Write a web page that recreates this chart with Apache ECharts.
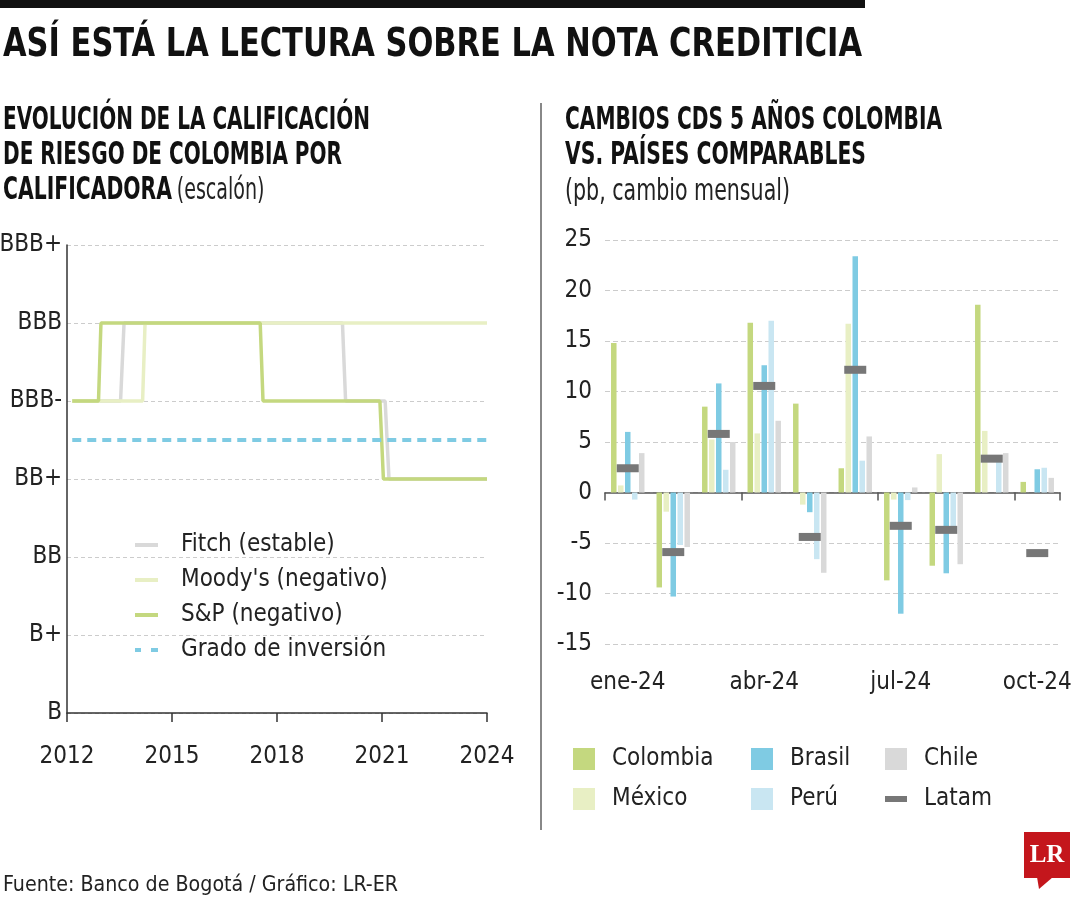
<!DOCTYPE html>
<html><head><meta charset="utf-8">
<script src="https://cdn.jsdelivr.net/npm/echarts/dist/echarts.min.js"></script>
<style>html,body{margin:0;padding:0;background:#fff}#c{width:1080px;height:900px}</style>
</head><body><div id="c"></div>
<script>
// ---------- data: left chart (ratings, steps) ----------
const ratingLabels = ['B', 'B+', 'BB', 'BB+', 'BBB-', 'BBB', 'BBB+'];
const fitch = [[2012.15,4],[2013.53,4],[2013.63,5],[2019.87,5],[2019.96,4],[2021.09,4],[2021.2,3],[2024,3]];
const moodys = [[2012.15,4],[2014.16,4],[2014.23,5],[2024,5]];
const sp = [[2012.15,4],[2012.9,4],[2012.97,5],[2017.52,5],[2017.6,4],[2020.94,4],[2021.04,3],[2024,3]];
const investmentGrade = [[2012.15,3.5],[2024,3.5]];

// ---------- data: right chart (CDS monthly change, pb) ----------
const months = ['ene-24','feb-24','mar-24','abr-24','may-24','jun-24','jul-24','ago-24','sep-24','oct-24'];
const colombia = [14.8, -9.4, 8.5, 16.8, 8.8, 2.4, -8.7, -7.25, 18.6, 1.05];
const mexico   = [0.7, -1.9, 5.25, 5.85, -1.2, 16.7, -0.7, 3.8, 6.1, 0];
const brasil   = [6.0, -10.3, 10.8, 12.6, -1.95, 23.4, -12.0, -8.0, 0, 2.3];
const peru     = [-0.7, -5.2, 2.25, 17.0, -6.6, 3.15, -0.75, -3.9, 3.2, 2.45];
const chile    = [3.9, -5.4, 5.0, 7.1, -7.95, 5.55, 0.5, -7.1, 3.9, 1.45];
const latam    = [2.4, -5.9, 5.8, 10.55, -4.4, 12.15, -3.3, -3.7, 3.35, -6.0];

const FAM = "'Liberation Sans Narrow','Arial Narrow','DejaVu Sans Condensed',sans-serif";
const C = {col:'#c4d87f', mex:'#e8efc4', bra:'#7fcbe3', per:'#c9e6f2', chi:'#d9d9d9', lat:'#777777', txt:'#222'};

const mctx = document.createElement('canvas').getContext('2d');
function mw(font, t){ mctx.font = font; return mctx.measureText(t).width; }
function fit(font, t, w){ return w / mw(font, t); }

const chart = echarts.init(document.getElementById('c'), null, {renderer:'canvas'});

const titleFont = 'bold 39px ' + FAM;
const subB = 'bold 32px ' + FAM;
const subR = 'normal 30px ' + FAM;
const footFont = 'normal 21px ' + FAM;

function txt(x, y, text, font, w, fill){
  return {type:'text', x:x, y:y, scaleX: fit(font, text, w), style:{text:text, font:font, fill:fill||'#111', verticalAlign:'middle', align:'left'}};
}
const sL3 = fit(subB, 'CALIFICADORA', 169);
const sR3 = fit(subR, '(pb, cambio mensual)', 225);

const FS = 24;
const labelStyle = {fontSize:FS, fontFamily:FAM, color:C.txt};
const lineIcon = 'path://M0,0h23v4h-23z';
const dashIcon = 'path://M0,0h6v4h-6zM16,0h7v4h-7z';

const option = {
  animation:false,
  grid:[
    {left:67, top:245, width:420, height:468, outerBoundsMode:'none', containLabel:false},
    {left:605, top:240, width:455, height:404, outerBoundsMode:'none', containLabel:false}
  ],
  xAxis:[
    {gridIndex:0, type:'value', min:2012, max:2024, interval:3,
     axisLine:{show:true, lineStyle:{color:'#333', width:1.5}},
     axisTick:{show:true, length:9, lineStyle:{color:'#333', width:1.5}},
     axisLabel:Object.assign({margin:32, formatter:v=>String(v)}, labelStyle),
     splitLine:{show:false}},
    {gridIndex:1, type:'category', data:months, position:'bottom',
     axisLine:{show:false, onZero:false}, axisTick:{show:false},
     axisLabel:Object.assign({interval:2, margin:27}, labelStyle)},
    {gridIndex:1, type:'category', data:months, position:'top',
     axisLine:{show:true, onZero:true, lineStyle:{color:'#555', width:1.5}},
     axisTick:{show:true, inside:true, interval:2, length:8, lineStyle:{color:'#555', width:1.5}},
     axisLabel:{show:false}}
  ],
  yAxis:[
    {gridIndex:0, type:'value', min:0, max:6, interval:1,
     axisLine:{show:true, lineStyle:{color:'#333', width:1.5}}, axisTick:{show:false},
     axisLabel:Object.assign({margin:5, formatter:v=>ratingLabels[v]}, labelStyle),
     splitLine:{show:true, lineStyle:{color:'#ccc', type:[4,3], width:1}}},
    {gridIndex:1, type:'value', min:-15, max:25, interval:5,
     axisLine:{show:false}, axisTick:{show:false},
     axisLabel:Object.assign({margin:13}, labelStyle),
     splitLine:{show:true, lineStyle:{color:'#ccc', type:[5,3], width:1}}}
  ],
  legend:[
    {data:[{name:'Fitch (estable)',icon:lineIcon},{name:'Moody\'s (negativo)',icon:lineIcon},
           {name:'S&P (negativo)',icon:lineIcon},{name:'Grado de inversión',icon:dashIcon}],
     orient:'vertical', left:130, top:527, itemWidth:23, itemHeight:26, itemGap:9,
     textStyle:{fontSize:FS, fontFamily:FAM, color:C.txt, lineHeight:26, padding:[0,0,0,18]}},
    {data:[{name:'Colombia',icon:'rect'},{name:'México',icon:'rect'}], orient:'vertical', left:568, top:742,
     itemWidth:22, itemHeight:22, itemGap:16, textStyle:{fontSize:FS, fontFamily:FAM, color:C.txt, lineHeight:22, padding:[0,0,0,12]}},
    {data:[{name:'Brasil',icon:'rect'},{name:'Perú',icon:'rect'}], orient:'vertical', left:746, top:742,
     itemWidth:22, itemHeight:22, itemGap:16, textStyle:{fontSize:FS, fontFamily:FAM, color:C.txt, lineHeight:22, padding:[0,0,0,12]}},
    {data:[{name:'Chile',icon:'rect'},{name:'Latam',icon:'path://M0,0h22v6h-22z'}], orient:'vertical', left:880, top:742,
     itemWidth:22, itemHeight:22, itemGap:16, textStyle:{fontSize:FS, fontFamily:FAM, color:C.txt, lineHeight:22, padding:[0,0,0,12]}}
  ],
  series:[
    {name:'Fitch (estable)', type:'line', xAxisIndex:0, yAxisIndex:0, data:fitch, symbol:'none', color:C.chi,
     itemStyle:{color:C.chi}, lineStyle:{color:C.chi, width:3.5}, z:2},
    {name:'Moody\'s (negativo)', type:'line', xAxisIndex:0, yAxisIndex:0, data:moodys, symbol:'none', color:C.mex,
     itemStyle:{color:C.mex}, lineStyle:{color:C.mex, width:3.5}, z:3},
    {name:'S&P (negativo)', type:'line', xAxisIndex:0, yAxisIndex:0, data:sp, symbol:'none', color:C.col,
     itemStyle:{color:C.col}, lineStyle:{color:C.col, width:3.5}, z:4},
    {name:'Grado de inversión', type:'line', xAxisIndex:0, yAxisIndex:0, data:investmentGrade, symbol:'none', color:C.bra,
     itemStyle:{color:C.bra}, lineStyle:{color:C.bra, width:4, type:[9,6]}, z:5},

    {name:'Colombia', type:'bar', xAxisIndex:1, yAxisIndex:1, data:colombia, barWidth:5.5, barGap:'27%', itemStyle:{color:C.col}},
    {name:'México', type:'bar', xAxisIndex:1, yAxisIndex:1, data:mexico, barWidth:5.5, barGap:'27%', itemStyle:{color:C.mex}},
    {name:'Brasil', type:'bar', xAxisIndex:1, yAxisIndex:1, data:brasil, barWidth:5.5, barGap:'27%', itemStyle:{color:C.bra}},
    {name:'Perú', type:'bar', xAxisIndex:1, yAxisIndex:1, data:peru, barWidth:5.5, barGap:'27%', itemStyle:{color:C.per}},
    {name:'Chile', type:'bar', xAxisIndex:1, yAxisIndex:1, data:chile, barWidth:5.5, barGap:'27%', itemStyle:{color:C.chi}},
    {name:'Latam', type:'scatter', xAxisIndex:1, yAxisIndex:1, data:latam, symbol:'rect', symbolSize:[22,8],
     itemStyle:{color:C.lat, opacity:1}, z:6}
  ],
  graphic:[
    {type:'rect', shape:{x:0, y:0, width:865, height:8}, style:{fill:'#111'}},
    txt(3, 46, 'ASÍ ESTÁ LA LECTURA SOBRE LA NOTA CREDITICIA', titleFont, 859),
    txt(3, 121, 'EVOLUCIÓN DE LA CALIFICACIÓN', subB, 367),
    txt(3, 156, 'DE RIESGO DE COLOMBIA POR', subB, 339),
    {type:'text', x:3, y:191, scaleX:sL3, style:{text:'{b|CALIFICADORA}  {r|(escalón)}', verticalAlign:'middle', fill:'#111',
      rich:{b:{fontFamily:FAM, fontWeight:'bold', fontSize:32, fill:'#111'}, r:{fontFamily:FAM, fontWeight:'normal', fontSize:30, fill:'#222'}}}},
    txt(565, 121, 'CAMBIOS CDS 5 AÑOS COLOMBIA', subB, 377),
    txt(565, 156, 'VS. PAÍSES COMPARABLES', subB, 301),
    {type:'text', x:565, y:192, scaleX:sR3, style:{text:'(pb, cambio mensual)', font:subR, fill:'#222', verticalAlign:'middle'}},
    {type:'line', shape:{x1:541, y1:103, x2:541, y2:830}, style:{stroke:'#888', lineWidth:2}},
    txt(3, 886, 'Fuente: Banco de Bogotá / Gráfico: LR-ER', footFont, 395, '#222'),
    {type:'rect', shape:{x:1024, y:832, width:46, height:46}, style:{fill:'#c4161c'}},
    {type:'polygon', shape:{points:[[1037,877],[1053,877],[1039,889]]}, style:{fill:'#c4161c'}},
    {type:'text', x:1047, y:856, style:{text:'LR', font:"bold 25px 'Liberation Serif','DejaVu Serif',serif", fill:'#fff', align:'center', verticalAlign:'middle'}}
  ]
};
chart.setOption(option);
</script>
</body></html>
